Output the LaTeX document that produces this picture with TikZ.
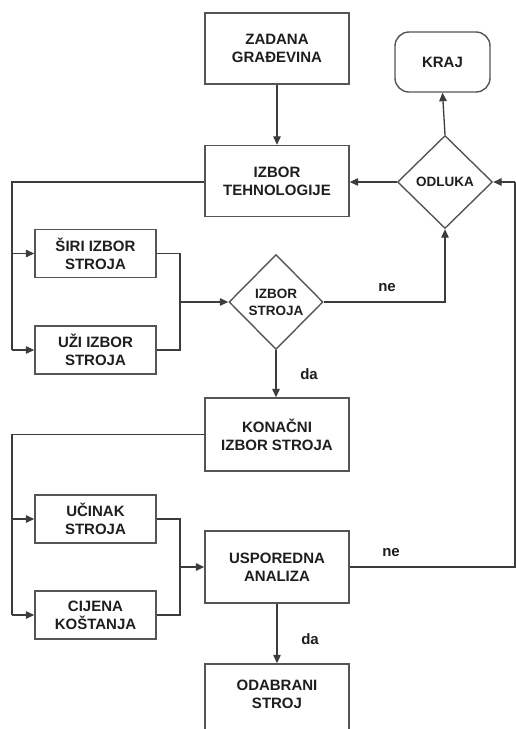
\documentclass[tikz,border=0pt]{standalone}
\usepackage{fontspec}
\setmainfont{Liberation Sans}
\usetikzlibrary{arrows.meta,shapes.geometric,shapes.misc}
\definecolor{boxc}{HTML}{555555}
\definecolor{linec}{HTML}{3C3C3C}
\definecolor{txtc}{HTML}{1E1E1E}
\begin{document}
\begin{tikzpicture}[x=1pt,y=-1pt,
  box/.style={draw=boxc,line width=1.4pt,rectangle,minimum width=144pt,minimum height=71pt,inner sep=0pt,
    align=center,text=txtc,font=\bfseries\fontsize{15}{18}\selectfont},
  sbox/.style={box,minimum width=121pt,minimum height=48pt},
  endbox/.style={box,rounded corners=14pt,minimum width=95pt,minimum height=60pt},
  dia/.style={draw=boxc,line width=1.4pt,diamond,inner sep=0pt,text=txtc,align=center,
    font=\bfseries\fontsize{13}{16}\selectfont},
  conn/.style={draw=linec,line width=1.3pt},
  arr/.style={conn,-{Triangle[length=8.5pt,width=7.5pt]}},
  lab/.style={text=txtc,font=\bfseries\fontsize{15}{18}\selectfont,inner sep=0pt}
]
\useasboundingbox (0,0) rectangle (516,729);
\clip (0,0) rectangle (516,729);
\fill[white] (0,0) rectangle (516,729);

% nodes
\node[box] (zad) at (277,48.5) {ZADANA\\GRAĐEVINA};
\node[box] (tech) at (277,181) {IZBOR\\TEHNOLOGIJE};
\node[endbox] (kraj) at (442.5,62) {KRAJ};
\node[dia,minimum width=95pt,minimum height=93pt] (odl) at (445,182) {};
\node[lab,font=\bfseries\fontsize{13.5}{16}\selectfont] (odlT) at (odl.center) {ODLUKA};
\node[sbox] (siri) at (95.5,253.5) {ŠIRI IZBOR\\STROJA};
\node[sbox] (uzi) at (95.5,350) {UŽI IZBOR\\STROJA};
\node[dia,minimum width=94pt,minimum height=95pt] (izs) at (276,302) {};
\node[lab,align=center,font=\bfseries\fontsize{13.5}{17}\selectfont] (izsT) at (izs.center) {IZBOR\\STROJA};
\node[box,minimum height=73pt] (kon) at (277,434.5) {KONAČNI\\IZBOR STROJA};
\node[sbox] (uci) at (95.5,519) {UČINAK\\STROJA};
\node[sbox] (cij) at (95.5,615) {CIJENA\\KOŠTANJA};
\node[box,minimum height=72pt] (usp) at (277,567) {USPOREDNA\\ANALIZA};
\node[box,minimum height=72pt] (oda) at (277,700) {};
\node[lab,align=center] (odaT) at (277,694) {ODABRANI\\STROJ};

% labels
\node[lab] (ne1) at (387,288) {ne};
\node[lab] (da1) at (309,374) {da};
\node[lab] (ne2) at (391,553) {ne};
\node[lab] (da2) at (310,639) {da};

% helper coordinates
\coordinate (L1) at (12,253.5);
\coordinate (L2) at (12,350);
\coordinate (M1) at (180,302);
\coordinate (L3) at (12,519);
\coordinate (L4) at (12,615);
\coordinate (M2) at (180,567);
\coordinate (R1) at (515,567);
\coordinate (R2) at (515,182);

% connectors
\draw[arr] (zad.south) -- (tech.north);
\draw[arr] (odl.west) -- (odl.west -| tech.east);
\draw[arr] (odl.north) -- (kraj.south);
\draw[conn] (tech.west |- 0,182) -| (L2);
\draw[arr] (L1) -- (siri.west);
\draw[arr] (L2) -- (uzi.west);
\draw[conn] (siri.east) -| (M1) |- (uzi.east);
\draw[arr] (M1) -- (izs.west);
\draw[arr] (izs.east) -| (odl.south);
\draw[arr] (izs.south) -- (izs.south |- kon.north);
\draw[conn] (kon.west) -| (L4);
\draw[arr] (L3) -- (uci.west);
\draw[arr] (L4) -- (cij.west);
\draw[conn] (uci.east) -| (M2) |- (cij.east);
\draw[arr] (M2) -- (usp.west);
\draw[conn] (usp.east) -- (R1) -- (R2);
\draw[arr] (R2) -- (odl.east);
\draw[arr] (usp.south) -- (oda.north);
\end{tikzpicture}
\end{document}
